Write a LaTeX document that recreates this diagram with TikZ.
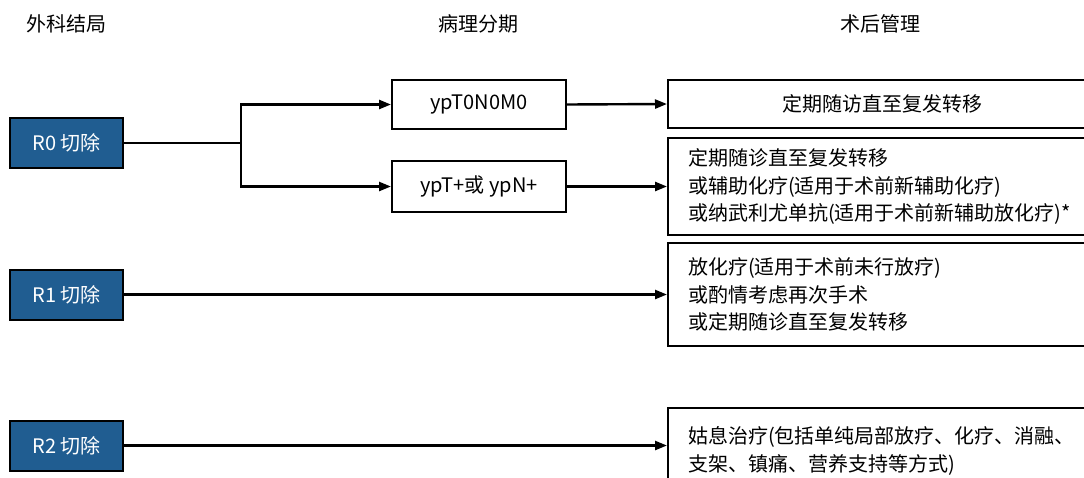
\documentclass[tikz,border=0pt]{standalone}
\usepackage{fontspec}
\setmainfont{Noto Sans CJK SC}
\usetikzlibrary{arrows.meta}
\definecolor{rblue}{RGB}{32,93,145}
\tikzset{
  base/.style={font=\fontsize{20}{27.5}\selectfont},
  rbox/.style={base, draw=black, line width=2pt, fill=rblue, text=white, minimum width=113pt, minimum height=50pt, inner sep=0pt},
  sbox/.style={base, draw=black, line width=2pt, fill=white, minimum width=174pt, minimum height=49pt, inner sep=0pt},
  mbox/.style={base, draw=black, line width=2pt, fill=white, text width=384pt, inner xsep=20pt, inner ysep=0pt, align=left},
  hdr/.style={base},
  arr/.style={line width=2.4pt, -{Triangle[length=12pt,width=9pt]}},
  ln/.style={line width=2.4pt}
}
\begin{document}
\begin{tikzpicture}[x=1pt,y=-1pt]
\useasboundingbox (0,0) rectangle (1084,477);
\clip (0,0) rectangle (1084,477);
\fill[white] (0,0) rectangle (1084,477);
% headers
\node[hdr] (h1) at (66,24) {外科结局};
\node[hdr] (h2) at (478,24) {病理分期};
\node[hdr] (h3) at (880,24) {术后管理};
% left boxes
\node[rbox] (r0) at (66.5,143) {R0 切除};
\node[rbox] (r1) at (66.5,294.5) {R1 切除};
\node[rbox] (r2) at (66.5,445.5) {R2 切除};
% stage boxes
\node[sbox] (t0) at (479,104.5) {ypT0N0M0};
\node[sbox, minimum height=51pt] (tp) at (479,186.5) {ypT+或 ypN+};
% management boxes
\node[base, draw=black, line width=2pt, fill=white, minimum width=424pt, minimum height=48pt, inner sep=0pt] (m0) at (880,104) {\hspace*{4pt}定期随访直至复发转移};
\node[mbox, minimum height=97pt] (m1) at (880,186.5) {定期随诊直至复发转移\\或辅助化疗(适用于术前新辅助化疗)\\或纳武利尤单抗(适用于术前新辅助放化疗)*};
\node[mbox, minimum height=103pt] (m2) at (880,294.5) {放化疗(适用于术前未行放疗)\\或酌情考虑再次手术\\或定期随诊直至复发转移};
\node[mbox, minimum height=86pt] (m3) at (880,451) {姑息治疗(包括单纯局部放疗、化疗、消融、\\支架、镇痛、营养支持等方式)};
% connectors
\coordinate (j) at (241,143);
\draw[ln] (r0.east) -- (j);
\draw[arr] (j) |- (t0.west);
\draw[arr] (j) |- (tp.west);
\draw[arr] (t0.east) -- (m0.west);
\draw[arr] (tp.east) -- (m1.west);
\draw[arr] (r1.east) -- (m2.west);
\draw[arr] (r2.east) -- (r2.east -| m3.west);
\end{tikzpicture}
\end{document}
